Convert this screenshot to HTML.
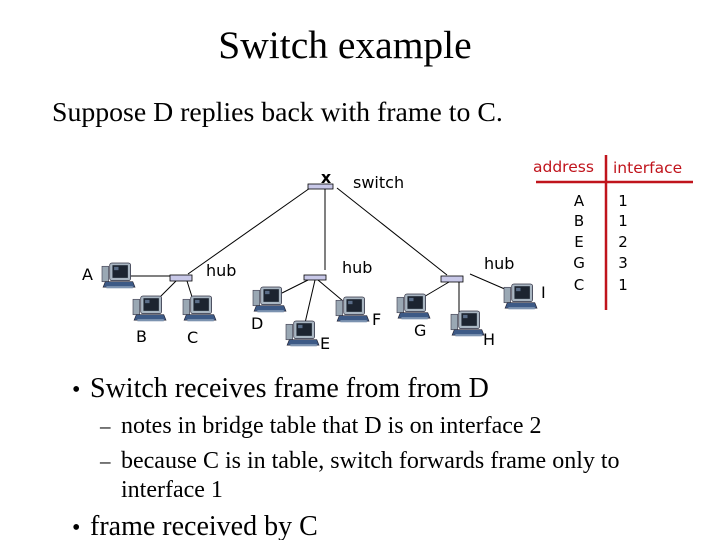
<!DOCTYPE html>
<html><head><meta charset="utf-8"><style>
html,body{margin:0;padding:0;background:#fff}
svg{display:block}
.s{font-family:"Liberation Serif",serif;fill:#000}
.c{font-family:"DejaVu Sans","Liberation Sans",sans-serif;fill:#000}
.r{font-family:"DejaVu Sans","Liberation Sans",sans-serif;fill:#c0141c}
</style></head><body>
<svg width="720" height="540" viewBox="0 0 720 540" xmlns="http://www.w3.org/2000/svg">
<defs>
<g id="pc" transform="scale(1.1)">
  <rect x="0" y="3" width="6" height="14" fill="#9aa8b4" stroke="#445" stroke-width="0.6"/>
  <path d="M3 17 L28 17 L30 22 L1 22 Z" fill="#3d5a86" stroke="#223" stroke-width="0.6"/>
  <rect x="7" y="0" width="19" height="16" rx="2" fill="#a9b6c2" stroke="#334" stroke-width="0.7"/>
  <rect x="9.5" y="2" width="14" height="11.5" fill="#1c2430"/>
  <rect x="11" y="3.5" width="4" height="3" fill="#5a6d88"/>
  <rect x="4" y="21" width="24" height="2" fill="#7c93b0"/>
</g>
</defs>
<text class="s" x="345" y="58" font-size="39.5" text-anchor="middle">Switch example</text>
<text class="s" x="52" y="121" font-size="27.8">Suppose D replies back with frame to C.</text>

<g stroke="#000" stroke-width="1" fill="none">
  <line x1="310" y1="188" x2="188" y2="274"/>
  <line x1="325" y1="189" x2="325" y2="270"/>
  <line x1="337" y1="188" x2="447" y2="275"/>
  <line x1="130" y1="276" x2="172" y2="276"/>
  <line x1="176" y1="281" x2="157" y2="300"/>
  <line x1="187" y1="281" x2="193" y2="300"/>
  <line x1="308" y1="280" x2="282" y2="293"/>
  <line x1="315" y1="280" x2="305" y2="323"/>
  <line x1="318" y1="280" x2="343" y2="301"/>
  <line x1="449" y1="282" x2="422" y2="298"/>
  <line x1="459" y1="282" x2="459" y2="314"/>
  <line x1="470" y1="274" x2="507" y2="290"/>
</g>
<g fill="#c8c8e8" stroke="#000" stroke-width="0.8">
  <rect x="308" y="184" width="25" height="5"/>
  <rect x="170" y="275" width="22" height="6"/>
  <rect x="304" y="275" width="22" height="5"/>
  <rect x="441" y="276" width="22" height="6"/>
</g>
<text x="326" y="183" font-size="16" font-weight="bold" text-anchor="middle" font-family="DejaVu Sans,sans-serif">x</text>

<use href="#pc" x="102" y="263"/>
<use href="#pc" x="133" y="296"/>
<use href="#pc" x="183" y="296"/>
<use href="#pc" x="253" y="287"/>
<use href="#pc" x="286" y="321"/>
<use href="#pc" x="336" y="297"/>
<use href="#pc" x="397" y="294"/>
<use href="#pc" x="451" y="311"/>
<use href="#pc" x="504" y="284"/>

<g class="c" font-size="16">
<text x="353" y="188">switch</text>
<text x="206" y="276">hub</text>
<text x="342" y="273">hub</text>
<text x="484" y="269">hub</text>
<text x="82" y="280">A</text>
<text x="136" y="342">B</text>
<text x="187" y="343">C</text>
<text x="251" y="329">D</text>
<text x="320" y="349">E</text>
<text x="372" y="325">F</text>
<text x="414" y="336">G</text>
<text x="483" y="345">H</text>
<text x="541" y="298">I</text>
</g>

<text class="r" x="533" y="172" font-size="15.5">address</text>
<text class="r" x="613" y="173" font-size="15.5">interface</text>
<line x1="536" y1="182" x2="693" y2="182" stroke="#c0141c" stroke-width="2.5"/>
<line x1="606" y1="155" x2="606" y2="310" stroke="#c0141c" stroke-width="2.5"/>
<g class="c" font-size="15" text-anchor="middle">
<text x="579" y="206">A</text><text x="623" y="206">1</text>
<text x="579" y="226">B</text><text x="623" y="226">1</text>
<text x="579" y="247">E</text><text x="623" y="247">2</text>
<text x="579" y="268">G</text><text x="623" y="268">3</text>
<text x="579" y="290">C</text><text x="623" y="290">1</text>
</g>

<g class="s">
<text x="72" y="397" font-size="24">•</text>
<text x="90" y="397" font-size="28">Switch receives frame from from D</text>
<text x="100" y="433" font-size="21">–</text>
<text x="121" y="433" font-size="24">notes in bridge table that D is on interface 2</text>
<text x="100" y="468" font-size="21">–</text>
<text x="121" y="468" font-size="24">because C is in table, switch forwards frame only to</text>
<text x="121" y="497" font-size="24">interface 1</text>
<text x="72" y="535" font-size="24">•</text>
<text x="90" y="535" font-size="28">frame received by C</text>
</g>
</svg>
</body></html>
